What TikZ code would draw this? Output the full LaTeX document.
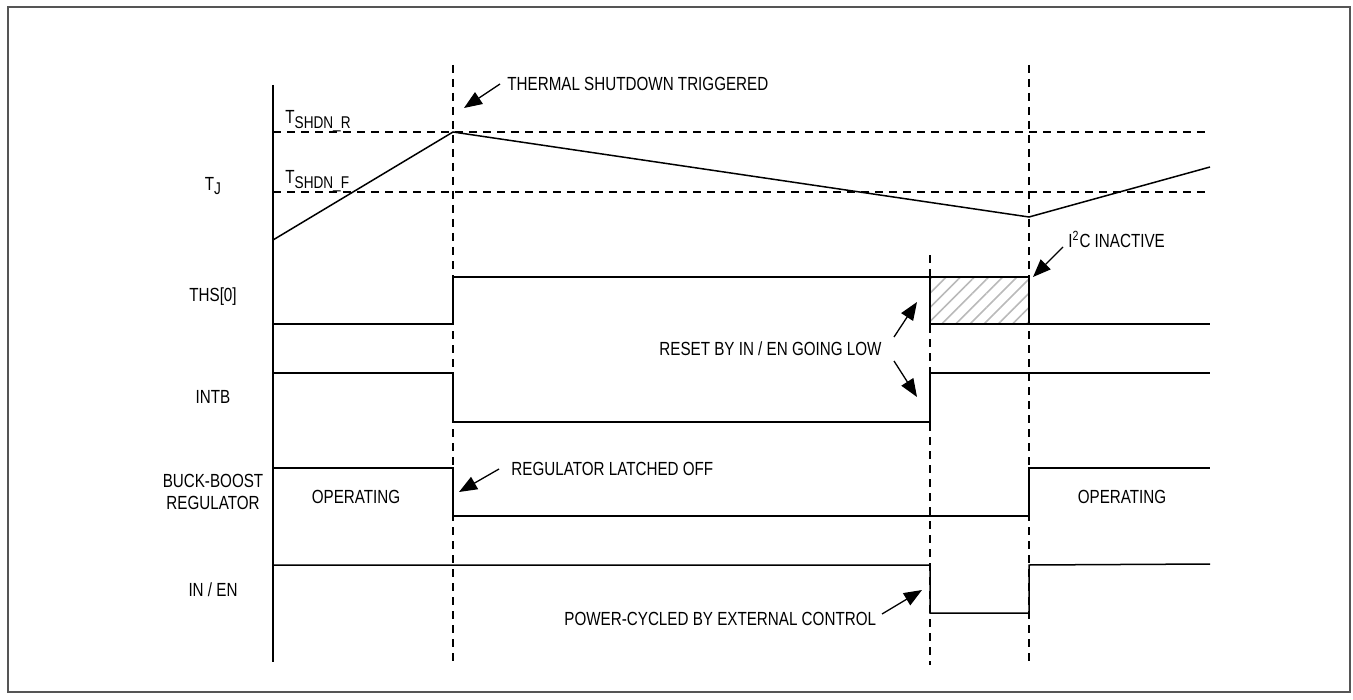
\documentclass[tikz,border=0pt]{standalone}
\usepackage{fontspec}
\setmainfont{Liberation Sans}[FakeStretch=0.8]
\usetikzlibrary{arrows.meta,patterns.meta}
\definecolor{framegray}{HTML}{555555}
\newcommand{\sigsize}{\fontsize{9.5}{11}\selectfont}
\newcommand{\lowsub}[1]{\raisebox{-0.45ex}{\fontsize{8.5}{9}\selectfont #1}}
\tikzset{
  wave/.style={black, line width=0.75pt},
  guide/.style={black, line width=0.6pt, dash pattern=on 4pt off 3pt},
  callout/.style={black, line width=0.65pt, -{Triangle[length=9pt,width=7pt]}},
  hatch/.style={pattern={Lines[angle=45,distance=5pt,line width=0.8pt]}, pattern color=gray!55},
  sig/.style={font=\sigsize, align=center},
  note/.style={font=\sigsize, anchor=base west, inner sep=0pt}
}

\begin{document}
\begin{tikzpicture}[x=0.5pt,y=-0.5pt]
  \useasboundingbox (0,0) rectangle (1353,700);
  \draw[framegray, line width=1pt] (8,7) rectangle (1350,692);

  % time axis and event markers
  \draw[wave] (273,85) -- (273,662);
  \draw[guide] (453,65) -- (453,665);
  \draw[guide] (930,255) -- (930,665);
  \draw[guide] (1029,65) -- (1029,665);
  \draw[guide] (273,132) -- (1210,132);
  \draw[guide] (273,192) -- (1210,192);

  % signal names
  \node[sig] (tj) at (213,186) {T\lowsub{J}};
  \node[sig] (ths) at (213,297) {THS[0]};
  \node[sig] (intb) at (213,397) {INTB};
  \node[sig] (buck) at (213,492) {BUCK-BOOST\\REGULATOR};
  \node[sig] (inen) at (213,590) {IN / EN};
  \node[note] (rise) at (285,124) {T\lowsub{SHDN\_R}};
  \node[note] (fall) at (285,184) {T\lowsub{SHDN\_F}};

  % waveforms
  \draw[wave] (273,240) -- (453,132) -- (1029,217) -- (1210,167);
  \draw[wave, hatch] (930,277) rectangle (1029,324);
  \draw[wave] (273,324) -- (453,324) -- (453,277) -- (1029,277) -- (1029,324) -- (1210,324);
  \draw[wave] (273,373) -- (453,373) -- (453,422) -- (930,422) -- (930,373) -- (1210,373);
  \draw[wave] (273,468) -- (453,468) -- (453,516) -- (1029,516) -- (1029,468) -- (1210,468);
  \draw[wave] (273,565) -- (930,565) -- (930,613) -- (1029,613) -- (1029,565) -- (1210,564);
  \node[sig] (opleft) at (356,497) {OPERATING};
  \node[sig] (opright) at (1122,497) {OPERATING};

  % callouts
  \node[note] (trig) at (507,91) {THERMAL SHUTDOWN TRIGGERED};
  \node[note] (i2c) at (1068,248) {I\textsuperscript{2}C INACTIVE};
  \node[note] (reset) at (659,355) {RESET BY IN / EN GOING LOW};
  \node[note] (latch) at (511,475) {REGULATOR LATCHED OFF};
  \node[note] (cycle) at (564,625) {POWER-CYCLED BY EXTERNAL CONTROL};

  \coordinate (trigtail) at (500,84);   \coordinate (trigtip) at (464,108);
  \coordinate (i2ctail) at (1063,247);  \coordinate (i2ctip) at (1033,277);
  \coordinate (resetup) at (894,337);   \coordinate (resetuptip) at (917,302);
  \coordinate (resetdn) at (894,361);   \coordinate (resetdntip) at (917,397);
  \coordinate (latchtail) at (499,469); \coordinate (latchtip) at (459,492);
  \coordinate (cycletail) at (882,614); \coordinate (cycletip) at (922,590);
  \draw[callout] (trigtail) -- (trigtip);
  \draw[callout] (i2ctail) -- (i2ctip);
  \draw[callout] (resetup) -- (resetuptip);
  \draw[callout] (resetdn) -- (resetdntip);
  \draw[callout] (latchtail) -- (latchtip);
  \draw[callout] (cycletail) -- (cycletip);
\end{tikzpicture}
\end{document}
